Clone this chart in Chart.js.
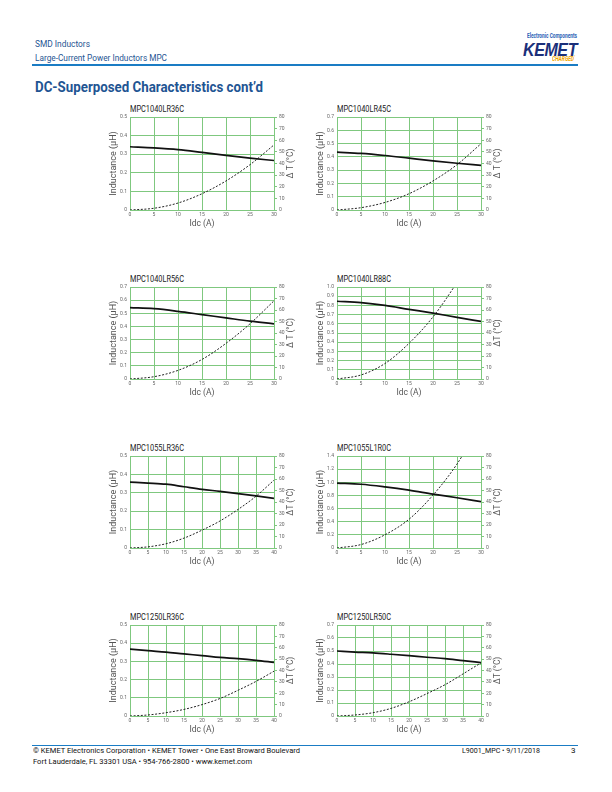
<!DOCTYPE html>
<html><head><meta charset="utf-8">
<script src="https://cdn.jsdelivr.net/npm/chart.js@4.4.1/dist/chart.umd.min.js"></script>
<style>
html,body{margin:0;padding:0;background:#fff;}
body{width:612px;height:792px;position:relative;overflow:hidden;font-family:Roboto,"Liberation Sans",sans-serif;}
.t{position:absolute;white-space:nowrap;line-height:1;transform-origin:0 50%;}
canvas{position:absolute;}
.hl{position:absolute;height:1.5px;background:#1a7cc4;}
</style></head><body>

<div class="t" data-w="55" style="left:35px;top:40px;font-size:8.5px;color:#1f5593">SMD Inductors</div>
<div class="t" data-w="132" style="left:35px;top:54px;font-size:8.5px;color:#1f5593">Large-Current Power Inductors MPC</div>
<div class="hl" style="left:32px;top:64px;width:546px"></div>
<div class="t" data-w="228" style="left:35px;top:80px;font-size:15px;font-weight:700;color:#1f5593">DC-Superposed Characteristics cont’d</div>

<div class="t" data-w="50" style="left:527px;top:33px;font-size:6.5px;font-weight:700;color:#2b5fb5">Electronic Components</div>
<div class="t" data-w="54" style="left:523px;top:40px;font-size:19px;font-weight:900;font-style:italic;color:#1b2f7a;letter-spacing:-0.5px;font-family:'Liberation Sans',Arial,sans-serif">KEMET</div>
<div class="t" data-w="23" style="left:552px;top:56px;font-size:6.5px;font-weight:700;font-style:italic;color:#f0a500">CHARGED<span style="font-size:3px;vertical-align:top">*</span></div>

<div class="hl" style="left:32px;top:745px;width:546px;height:1px"></div>
<div class="t" data-w="267" style="left:33px;top:747px;font-size:8px;color:#111">© KEMET Electronics Corporation • KEMET Tower • One East Broward Boulevard</div>
<div class="t" data-w="219" style="left:33px;top:758px;font-size:8px;color:#111">Fort Lauderdale, FL 33301 USA • 954-766-2800 • www.kemet.com</div>
<div class="t" data-w="78" style="left:462px;top:747px;font-size:8px;color:#111">L9001_MPC • 9/11/2018</div>
<div class="t" style="left:571px;top:747px;font-size:8px;color:#111">3</div>

<script>
// ---- data ----
const chartTitles = ['MPC1040LR36C','MPC1040LR45C','MPC1040LR56C','MPC1040LR88C','MPC1055LR36C','MPC1055L1R0C','MPC1250LR36C','MPC1250LR50C'];
const idc30 = [0,5,10,15,20,25,30];
const idc40 = [0,5,10,15,20,25,30,35,40];
const xTickStep = 5;
const tempMax = 80, tempStep = 10;

const L_1040LR36 = [0.340,0.334,0.325,0.310,0.294,0.279,0.266];
const T_1040LR36 = [0,1.5,6,14,25,39,56];
const L_1040LR45 = [0.435,0.426,0.410,0.390,0.370,0.352,0.336];
const T_1040LR45 = [0,2,6.5,14,25,39,57];
const L_1040LR56 = [0.543,0.535,0.515,0.490,0.465,0.440,0.420];
const T_1040LR56 = [0,2,7.5,17,31,48,68];
const L_1040LR88 = [0.845,0.830,0.800,0.757,0.716,0.670,0.626];
const T_1040LR88 = [0,3.5,13.5,31,54,84,118];
const L_1055LR36 = [0.358,0.353,0.347,0.333,0.319,0.308,0.296,0.283,0.270];
const T_1055LR36 = [0,1,3.7,8.6,15.5,23.5,33.5,45,59];
const L_1055L1R0 = [0.987,0.970,0.930,0.880,0.820,0.765,0.705];
const T_1055L1R0 = [0,3,11.5,25,46,73,108];
const L_1250LR36 = [0.368,0.359,0.351,0.341,0.332,0.322,0.315,0.306,0.295];
const T_1250LR36 = [0,0.9,2.9,5.8,10,15.4,22.6,30.4,39.4];
const L_1250LR50 = [0.500,0.492,0.485,0.475,0.464,0.452,0.442,0.426,0.411];
const T_1250LR50 = [0,0.9,2.9,6.7,12.5,19.7,27.5,37,46.7];

const yMaxes = [0.5,0.7,0.7,1.0,0.5,1.4,0.5,0.7];
const ySteps = [0.1,0.1,0.1,0.1,0.1,0.2,0.1,0.1];
const xMaxes = [30,30,30,30,40,30,40,40];
const tempTitles = ['Δ T (°C)','Δ T (°C)','Δ T (°C)','ΔT (°C)','ΔT (°C)','ΔT (°C)','ΔT (°C)','ΔT (°C)'];

const series = [
  [idc30, L_1040LR36, T_1040LR36],
  [idc30, L_1040LR45, T_1040LR45],
  [idc30, L_1040LR56, T_1040LR56],
  [idc30, L_1040LR88, T_1040LR88],
  [idc40, L_1055LR36, T_1055LR36],
  [idc30, L_1055L1R0, T_1055L1R0],
  [idc40, L_1250LR36, T_1250LR36],
  [idc40, L_1250LR50, T_1250LR50]
];

// ---- layout (plot areas) ----
const colLeft = [130, 337];
const plotW = 144;
const rowTop = [116, 286, 455, 624];
const rowH = [94, 93, 93, 92];

const GREEN = '#7fc87f';
const FONT = 'Roboto';
const LW = 24, RW = 26, PT = 5, XH = 20;

const rightTitle = {
  id: 'rightTitle',
  afterDraw(chart, args, opts) {
    const {ctx, chartArea: a} = chart;
    ctx.save();
    ctx.font = '8.5px ' + FONT;
    ctx.fillStyle = '#555';
    ctx.textAlign = 'center';
    ctx.textBaseline = 'middle';
    ctx.translate(a.right + opts.offset, (a.top + a.bottom) / 2);
    ctx.rotate(-Math.PI / 2);
    ctx.fillText(opts.text, 0, 0);
    ctx.restore();
  }
};

series.forEach((s, i) => {
  const col = i % 2, row = Math.floor(i / 2);
  const left = colLeft[col], top = rowTop[row], h = rowH[row];
  const [xs, L, T] = s;

  const title = document.createElement('div');
  title.className = 't';
  title.dataset.w = '54';
  title.style.cssText = `left:${left}px;top:${top - 11}px;font-size:8.5px;color:#222`;
  title.textContent = chartTitles[i];
  document.body.appendChild(title);

  const cv = document.createElement('canvas');
  const cw = plotW + LW + RW, ch = h + PT + XH;
  cv.width = cw; cv.height = ch;
  cv.style.left = (left - LW) + 'px';
  cv.style.top = (top - PT) + 'px';
  cv.style.width = cw + 'px'; cv.style.height = ch + 'px';
  document.body.appendChild(cv);

  const tickFont = {family: FONT, size: 5};
  new Chart(cv, {
    type: 'line',
    data: {
      datasets: [
        {data: xs.map((x, k) => ({x, y: L[k]})), yAxisID: 'y', borderColor: '#111', borderWidth: 1.7,
         pointRadius: 0, cubicInterpolationMode: 'monotone', clip: 0},
        {data: xs.map((x, k) => ({x, y: T[k]})), yAxisID: 'y2', borderColor: '#222', borderWidth: 1,
         borderDash: [2, 1.6], pointRadius: 0, cubicInterpolationMode: 'monotone', clip: 0}
      ]
    },
    options: {
      responsive: false, animation: false, devicePixelRatio: 1,
      layout: {padding: {top: PT, left: 0, right: 0, bottom: 0}},
      plugins: {legend: {display: false}, tooltip: {enabled: false},
        rightTitle: {text: tempTitles[i], offset: 17}},
      scales: {
        x: {type: 'linear', min: 0, max: xMaxes[i],
          afterFit: sc => { sc.height = XH; },
          ticks: {stepSize: xTickStep, font: tickFont, color: '#666', padding: 2, maxRotation: 0, autoSkip: false},
          grid: {color: GREEN, lineWidth: 1, drawTicks: false},
          border: {color: GREEN, width: 1},
          title: {display: true, text: 'Idc (A)', font: {family: FONT, size: 8.5}, color: '#555', padding: {top: 0, bottom: 1}}},
        y: {position: 'left', min: 0, max: yMaxes[i],
          afterFit: sc => { sc.width = LW; },
          ticks: {stepSize: ySteps[i], font: tickFont, color: '#666', padding: 3,
            callback: v => v === 0 ? '0' : v.toFixed(1)},
          grid: {color: GREEN, lineWidth: 1, drawTicks: false},
          border: {color: GREEN, width: 1},
          title: {display: true, text: 'Inductance (µH)', font: {family: FONT, size: 9}, color: '#555', padding: {top: 2, bottom: 0}}},
        y2: {position: 'right', min: 0, max: tempMax,
          afterFit: sc => { sc.width = RW; },
          ticks: {stepSize: tempStep, font: tickFont, color: '#666', padding: 2},
          grid: {drawOnChartArea: false, color: GREEN, tickLength: 3},
          border: {color: GREEN, width: 1}}
      }
    },
    plugins: [rightTitle]
  });
});

// fit text widths
document.querySelectorAll('.t[data-w]').forEach(el => {
  const w = el.getBoundingClientRect().width;
  const target = parseFloat(el.dataset.w);
  if (w > 0) el.style.transform = `scaleX(${target / w})`;
});
</script>
</body></html>
